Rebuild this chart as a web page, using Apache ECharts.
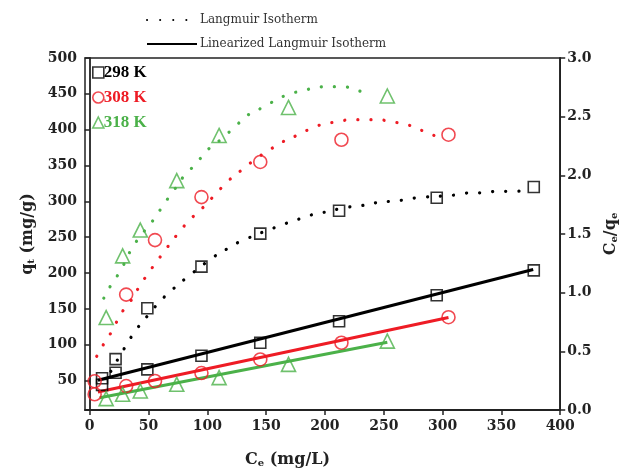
<!DOCTYPE html>
<html>
<head>
<meta charset="utf-8">
<script src="https://cdn.jsdelivr.net/npm/echarts@6/dist/echarts.min.js"></script>
<style>
html, body { margin: 0; padding: 0; background: #fff; }
#main { width: 627px; height: 473px; }
</style>
</head>
<body>
<div id="main"></div>
<script>
// 温度 / 颜色
var temps = ['298 K', '308 K', '318 K'];
var colors = ['#000000', '#ee1c25', '#4bb149'];
var symbols = ['rect', 'circle', 'triangle'];
var symbolSizes = [11, 13, 14];

// 实验点 Ce (mg/L)
var ce298 = [10.5, 22, 49, 95, 145, 212, 295, 377.5];
var ce308 = [4.2, 31, 55.5, 95, 145, 214, 305];
var ce318 = [14, 28, 43, 74, 110, 169, 253];

// qe (mg/g)  左轴
var qe298 = [44, 80, 151, 209, 255, 287, 305, 320];
var qe308 = [49, 170, 246, 306, 355, 386, 393];
var qe318 = [138, 224, 260, 329, 392, 431, 447];

// Ce/qe  右轴
var ratio298 = [0.27, 0.318, 0.346, 0.462, 0.573, 0.757, 0.978, 1.19];
var ratio308 = [0.134, 0.204, 0.247, 0.315, 0.431, 0.573, 0.791];
var ratio318 = [0.097, 0.134, 0.162, 0.219, 0.276, 0.389, 0.587];

// Langmuir 拟合曲线 (点线)
var fitCe298 = [18, 32, 40, 49, 60, 71, 82, 105, 117, 128, 163, 174, 186, 197, 220, 231, 243, 255, 267, 278, 312, 324, 335, 346, 358, 370];
var fitQ298 = [63, 102, 122, 140, 161, 178, 193, 222, 234, 244, 267, 273, 280, 284, 292, 294, 298, 300, 302, 305, 309, 312, 312, 314, 314, 315];
var fitCe308 = [6, 13, 20, 26, 34, 41, 49, 57, 66, 75, 85, 96, 108, 118, 131, 141, 153, 164, 176, 186, 199, 211, 222, 234, 245, 256, 268, 279, 290, 302];
var fitQ308 = [84, 104, 122, 142, 159, 178, 198, 216, 236, 255, 274, 291, 312, 329, 346, 359, 372, 383, 392, 400, 408, 411, 414, 414, 414, 411, 408, 401, 394, 384];
var fitCe318 = [12, 18, 26, 38, 55, 63, 71, 80, 90, 101, 112, 124, 135, 147, 158, 170, 181, 193, 205, 215, 227, 238];
var fitQ318 = [165, 183, 203, 240, 276, 296, 314, 335, 352, 373, 387, 405, 421, 431, 441, 450, 454, 459, 460, 460, 455, 450];

// 线性化拟合直线 (端点)
var linCe298 = [7, 377];
var linR298 = [0.253, 1.197];
var linCe308 = [7, 305];
var linR308 = [0.153, 0.788];
var linCe318 = [8.5, 253];
var linR318 = [0.105, 0.578];

function zip(xs, ys) {
    var out = [];
    for (var i = 0; i < xs.length; i++) out.push([xs[i], ys[i]]);
    return out;
}

var ceList = [ce298, ce308, ce318];
var qeList = [qe298, qe308, qe318];
var ratioList = [ratio298, ratio308, ratio318];
var fitCeList = [fitCe298, fitCe308, fitCe318];
var fitQList = [fitQ298, fitQ308, fitQ318];
var linCeList = [linCe298, linCe308, linCe318];
var linRList = [linR298, linR308, linR318];

var series = [];
for (var i = 0; i < 3; i++) {
    series.push({
        name: 'Langmuir Isotherm',
        type: 'line',
        yAxisIndex: 0,
        smooth: true,
        symbol: 'none',
        z: 2,
        lineStyle: { color: colors[i], width: 3.2, type: [0.1, 13], cap: 'round' },
        itemStyle: { color: colors[i] },
        data: zip(fitCeList[i], fitQList[i])
    });
    series.push({
        name: 'Linearized Langmuir Isotherm',
        type: 'line',
        yAxisIndex: 1,
        symbol: 'none',
        z: 2,
        lineStyle: { color: colors[i], width: 3 },
        itemStyle: { color: colors[i] },
        data: zip(linCeList[i], linRList[i])
    });
}
for (var j = 0; j < 3; j++) {
    var mark = {
        type: 'scatter',
        name: temps[j],
        symbol: symbols[j],
        symbolSize: symbolSizes[j],
        z: 4,
        itemStyle: { color: 'rgba(0,0,0,0)', borderColor: colors[j], borderWidth: 1.6 }
    };
    series.push(Object.assign({}, mark, { yAxisIndex: 0, data: zip(ceList[j], qeList[j]) }));
    series.push(Object.assign({}, mark, { yAxisIndex: 1, data: zip(ceList[j], ratioList[j]) }));
}

var labelFont = { fontFamily: 'DejaVu Serif', fontWeight: 'bold', fontSize: 14, color: '#222' };
var nameFont = 'DejaVu Serif';
var nameRich = {
    a: { fontFamily: nameFont, fontWeight: 'bold', fontSize: 16, color: '#222' },
    s: { fontFamily: nameFont, fontWeight: 'bold', fontSize: 10, color: '#222', verticalAlign: 'bottom', padding: [7, 0, 0, 0] }
};

var tempLegend = [];
for (var k = 0; k < 3; k++) {
    tempLegend.push({
        name: temps[k],
        icon: symbols[k],
        itemStyle: { color: 'rgba(0,0,0,0)', borderColor: colors[k], borderWidth: 1.6 },
        textStyle: { color: colors[k] }
    });
}
var hidden = { color: 'rgba(0,0,0,0)', borderColor: 'rgba(0,0,0,0)', borderWidth: 0, opacity: 0 };

var chart = echarts.init(document.getElementById('main'));
var option = {
    backgroundColor: '#fff',
    animation: false,
    grid: { left: 85, right: 64, top: 58, bottom: 62, show: true, borderColor: '#222', borderWidth: 1.5 },
    legend: [{
        data: [
            { name: 'Langmuir Isotherm', itemStyle: hidden },
            { name: 'Linearized Langmuir Isotherm', itemStyle: hidden }
        ],
        orient: 'vertical',
        left: 141,
        top: 9,
        itemWidth: 50,
        itemHeight: 10,
        itemGap: 12,
        selectedMode: false,
        textStyle: { fontFamily: 'DejaVu Serif', fontSize: 12, color: '#333', padding: [0, 0, 0, -2] }
    }, {
        data: tempLegend,
        orient: 'vertical',
        left: 87,
        top: 59,
        itemWidth: 11,
        itemHeight: 11,
        itemGap: 8,
        selectedMode: false,
        textStyle: { fontFamily: 'Liberation Serif', fontWeight: 'bold', fontSize: 17, padding: [0, 0, 0, -5] }
    }],
    xAxis: {
        type: 'value',
        min: -4,
        max: 400,
        splitNumber: 8,
        name: '{a|C}{s|e}{a| (mg/L)}',
        nameLocation: 'middle',
        nameGap: 41,
        nameTextStyle: { padding: [0, 70, 0, 0], rich: nameRich },
        axisLine: { lineStyle: { color: '#222', width: 1.8 } },
        axisTick: { inside: false, length: 5, lineStyle: { color: '#222', width: 1.5 } },
        axisLabel: Object.assign({ margin: 9, showMinLabel: false }, labelFont),
        splitLine: { show: false }
    },
    yAxis: [{
        type: 'value',
        min: 9,
        max: 500,
        splitNumber: 10,
        position: 'left',
        name: '{a|q}{s|t}{a| (mg/g)}',
        nameLocation: 'middle',
        nameRotate: 90,
        nameGap: 49,
        nameTextStyle: { rich: nameRich },
        axisLine: { show: true, lineStyle: { color: '#222', width: 1.8 } },
        axisTick: { show: true, length: 5, lineStyle: { color: '#222', width: 1.5 } },
        axisLabel: Object.assign({ margin: 8, showMinLabel: false }, labelFont),
        splitLine: { show: false }
    }, {
        type: 'value',
        min: 0,
        max: 3,
        interval: 0.5,
        position: 'right',
        name: '{a|C}{s|e}{a|/q}{s|e}',
        nameLocation: 'middle',
        nameRotate: 90,
        nameGap: 28,
        nameTextStyle: { rich: nameRich },
        axisLine: { show: true, lineStyle: { color: '#222', width: 1.8 } },
        axisTick: { show: true, length: 5, lineStyle: { color: '#222', width: 1.5 } },
        axisLabel: Object.assign({ margin: 7, formatter: function (v) { return v.toFixed(1); } }, labelFont),
        splitLine: { show: false }
    }],
    series: series
};
chart.setOption(option);
</script>
</body>
</html>
